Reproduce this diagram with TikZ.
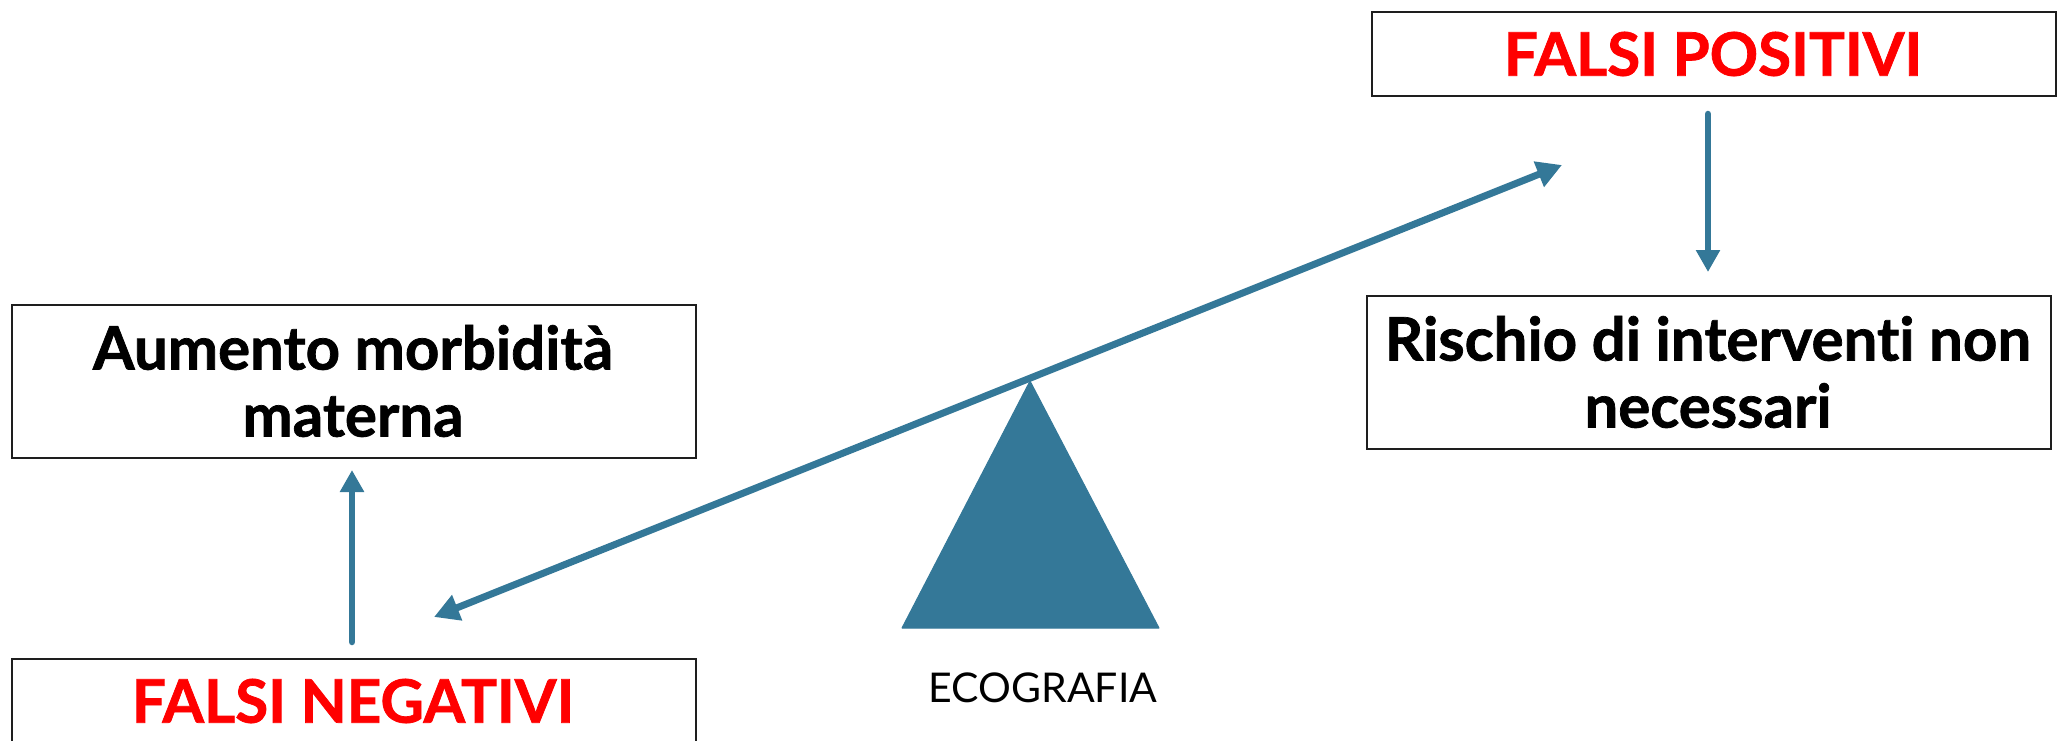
\documentclass[tikz,border=0pt]{standalone}
\usepackage{fontspec}
\setmainfont{Lato}[Ligatures=NoCommon,BoldFeatures={FakeBold=1.2}]
\usetikzlibrary{arrows.meta}
\definecolor{tealblue}{RGB}{52,120,152}
\definecolor{boxline}{RGB}{30,30,30}
\definecolor{fred}{RGB}{255,0,0}
\begin{document}
\begin{tikzpicture}[x=1pt,y=-1pt,
  boxstyle/.style={draw=boxline,line width=2pt,minimum width=684pt,inner sep=0pt,anchor=north west},
  bigtext/.style={font=\fontsize{60}{67}\selectfont\bfseries,align=center},
  conn/.style={draw=tealblue,line width=6.5pt,line cap=round,-{Triangle[length=22pt,width=23pt]}},
  both/.style={draw=tealblue,line width=7pt,{Triangle[length=25pt,width=26pt]}-{Triangle[length=25pt,width=26pt]}}]
\useasboundingbox (0,0) rectangle (2071,741);
% boxes
\node[boxstyle,minimum height=84pt] (fpbox) at (1371,11) {};
\node[boxstyle,minimum height=153pt] (ribox) at (1366,295) {};
\node[boxstyle,minimum height=153pt] (aubox) at (11,304) {};
\node[boxstyle,minimum height=120pt] (fnbox) at (11,658) {};
% texts
\node[bigtext,text=fred] (fpt) at (1713,54) {FALSI POSITIVI};
\node[bigtext,text=fred] (fnt) at (353,701) {FALSI NEGATIVI};
\node[bigtext] (aut) at (353,381) {Aumento morbidità\\materna};
\node[bigtext] (rit) at (1708,372) {Rischio di interventi non\\necessari};
\node[font=\fontsize{41}{44}\selectfont] (eco) at (1043,688) {ECOGRAFIA};
% fulcrum
\coordinate (apex) at (1030,381);
\coordinate (bl) at (902,628);
\coordinate (br) at (1159,628);
\fill[tealblue,draw=tealblue,line width=1pt,line join=round] (apex) -- (bl) -- (br) -- cycle;
% arrows
\coordinate (dtop) at (1708,114);
\coordinate (dtip) at (1708,272);
\coordinate (ubot) at (352,642);
\coordinate (utip) at (352,470);
\coordinate (lt) at (434,617);
\coordinate (rt) at (1562,165);
\draw[conn] (dtop) -- (dtip);
\draw[conn] (ubot) -- (utip);
\draw[both] (lt) -- (rt);
\end{tikzpicture}
\end{document}
